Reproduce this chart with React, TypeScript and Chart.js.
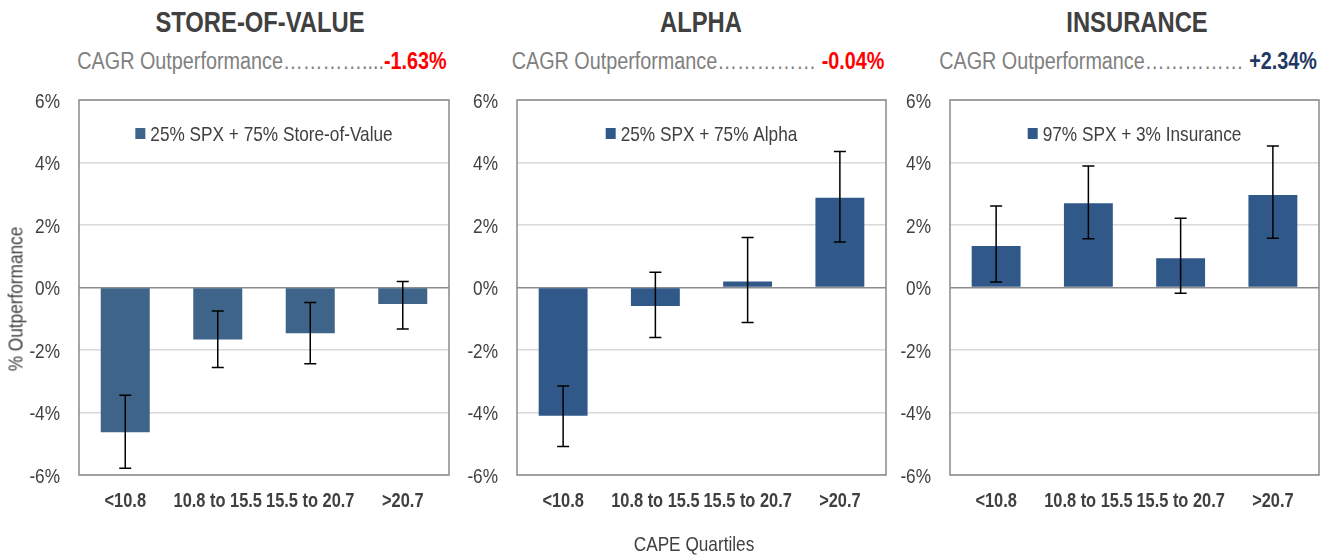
import React, { useEffect, useRef } from 'react';
import { Chart, registerables } from 'chart.js';

Chart.register(...registerables);

const FONT = '"Liberation Sans", Arial, sans-serif';
const NARROW = 0.82;

const categories = ['<10.8', '10.8 to 15.5', '15.5 to 20.7', '>20.7'];
const yTicks = [-6, -4, -2, 0, 2, 4, 6];

const sovValues = [-4.63, -1.66, -1.46, -0.53];
const sovErrLow = [-5.78, -2.56, -2.44, -1.33];
const sovErrHigh = [-3.45, -0.75, -0.48, 0.19];

const alphaValues = [-4.1, -0.59, 0.19, 2.87];
const alphaErrLow = [-5.09, -1.6, -1.12, 1.46];
const alphaErrHigh = [-3.15, 0.49, 1.6, 4.35];

const insValues = [1.33, 2.7, 0.94, 2.96];
const insErrLow = [0.18, 1.56, -0.18, 1.58];
const insErrHigh = [2.61, 3.89, 2.22, 4.53];

function narrowText(ctx: CanvasRenderingContext2D, text: string, x: number, y: number, align: CanvasTextAlign, font: string, color: string) {
  ctx.save();
  ctx.font = font;
  ctx.fillStyle = color;
  ctx.textAlign = align;
  ctx.textBaseline = 'alphabetic';
  ctx.translate(x, y);
  ctx.scale(NARROW, 1);
  ctx.fillText(text, 0, 0);
  ctx.restore();
}

type PanelProps = {
  left: number;
  width: number;
  yWidth: number;
  rightPad: number;
  values: number[];
  low: number[];
  high: number[];
  legend: string;
  color: string;
};

function Panel({ left, width, yWidth, rightPad, values, low, high, legend, color }: PanelProps) {
  const ref = useRef<HTMLCanvasElement | null>(null);
  useEffect(() => {
    if (!ref.current) return;
    const extras = {
      id: 'extras',
      beforeDatasetsDraw(chart: any) {
        const { ctx, chartArea } = chart;
        ctx.save();
        ctx.strokeStyle = '#8a8a8a';
        ctx.lineWidth = 1.5;
        ctx.strokeRect(chartArea.left, chartArea.top, chartArea.right - chartArea.left, chartArea.bottom - chartArea.top);
        ctx.restore();
      },
      afterDatasetsDraw(chart: any) {
        const { ctx, chartArea } = chart;
        const yScale = chart.scales.y;
        const xScale = chart.scales.x;
        const meta = chart.getDatasetMeta(0);
        ctx.save();
        ctx.strokeStyle = '#000000';
        ctx.lineWidth = 1.5;
        meta.data.forEach((bar: any, i: number) => {
          const x = bar.x;
          const yLo = yScale.getPixelForValue(low[i]);
          const yHi = yScale.getPixelForValue(high[i]);
          ctx.beginPath();
          ctx.moveTo(x, yLo);
          ctx.lineTo(x, yHi);
          ctx.moveTo(x - 6, yLo);
          ctx.lineTo(x + 6, yLo);
          ctx.moveTo(x - 6, yHi);
          ctx.lineTo(x + 6, yHi);
          ctx.stroke();
        });
        ctx.restore();

        // y tick labels (narrow)
        yScale.ticks.forEach((t: any) => {
          const y = yScale.getPixelForValue(t.value);
          narrowText(ctx, `${t.value}%`, chartArea.left - 19, y + 7.5, 'right', `21px ${FONT}`, '#404040');
        });
        // x tick labels (narrow bold)
        categories.forEach((lab, i) => {
          const x = xScale.getPixelForTick(i);
          narrowText(ctx, lab, x, chartArea.bottom + 32, 'center', `bold 20px ${FONT}`, '#404040');
        });

        // legend
        ctx.save();
        ctx.font = `21px ${FONT}`;
        const w = ctx.measureText(legend).width * NARROW;
        ctx.restore();
        const total = 10 + 5 + w;
        const cx = (chartArea.left + chartArea.right) / 2;
        const sx = cx - total / 2;
        ctx.save();
        ctx.fillStyle = color;
        ctx.fillRect(sx, 128, 10, 11);
        ctx.restore();
        narrowText(ctx, legend, sx + 15, 141, 'left', `21px ${FONT}`, '#404040');
      },
    };
    const chart = new Chart(ref.current, {
      type: 'bar',
      data: {
        labels: categories,
        datasets: [
          {
            label: legend,
            data: values,
            backgroundColor: color,
            barPercentage: 0.53,
            categoryPercentage: 1,
          },
        ],
      },
      options: {
        responsive: false,
        animation: false,
        devicePixelRatio: 1,
        layout: { padding: { top: 100, left: 0, right: rightPad, bottom: 30 } },
        plugins: { legend: { display: false }, tooltip: { enabled: false } },
        scales: {
          x: {
            grid: { display: false },
            border: { display: false },
            ticks: { display: false, autoSkip: false },
            afterFit: (s: any) => {
              s.height = 50;
            },
          },
          y: {
            min: -6,
            max: 6,
            afterBuildTicks: (s: any) => {
              s.ticks = yTicks.map((v) => ({ value: v }));
            },
            ticks: { display: false },
            grid: {
              drawTicks: false,
              color: (c: any) => (c.tick && c.tick.value === 0 ? '#8c8c8c' : '#d9d9d9'),
              lineWidth: 1.5,
            },
            border: { display: false },
            afterFit: (s: any) => {
              s.width = yWidth;
            },
          },
        },
      } as any,
      plugins: [extras],
    });
    return () => chart.destroy();
  }, []);
  return (
    <canvas
      ref={ref}
      width={width}
      height={555}
      style={{ position: 'absolute', left, top: 0, width, height: 555 }}
    />
  );
}

function Title({ cx, text }: { cx: number; text: string }) {
  return (
    <div
      style={{
        position: 'absolute',
        left: cx - 250,
        width: 500,
        top: 8,
        textAlign: 'center',
        font: `bold 29px ${FONT}`,
        lineHeight: '29px',
        color: '#404040',
        whiteSpace: 'nowrap',
        transform: `scaleX(${NARROW})`,
        transformOrigin: 'center',
      }}
    >
      {text}
    </div>
  );
}

function Sub({ cx, dots, value, color }: { cx: number; dots: string; value: string; color: string }) {
  return (
    <div
      style={{
        position: 'absolute',
        left: cx - 300,
        width: 600,
        top: 50,
        textAlign: 'center',
        font: `23px ${FONT}`,
        lineHeight: '23px',
        color: '#808080',
        whiteSpace: 'pre',
        transform: 'scaleX(0.86)',
        transformOrigin: 'center',
      }}
    >
      {'CAGR Outperformance' + dots}
      <span style={{ color, fontWeight: 'bold' }}>{value}</span>
    </div>
  );
}

export default function App() {
  return (
    <div
      style={{
        position: 'absolute',
        left: 0,
        top: 0,
        width: 1331,
        height: 555,
        overflow: 'hidden',
        background: '#ffffff',
      }}
    >
      <Title cx={260} text="STORE-OF-VALUE" />
      <Title cx={701} text="ALPHA" />
      <Title cx={1137} text="INSURANCE" />
      <Sub cx={262} dots={'…………....'} value="-1.63%" color="#ff0000" />
      <Sub cx={698} dots={'…………… '} value="-0.04%" color="#ff0000" />
      <Sub cx={1128} dots={'…………… '} value="+2.34%" color="#1f3864" />
      <Panel
        left={0}
        width={460}
        yWidth={79}
        rightPad={11}
        values={sovValues}
        low={sovErrLow}
        high={sovErrHigh}
        legend="25% SPX + 75% Store-of-Value"
        color="#3f6489"
      />
      <Panel
        left={460}
        width={433}
        yWidth={57}
        rightPad={7}
        values={alphaValues}
        low={alphaErrLow}
        high={alphaErrHigh}
        legend="25% SPX + 75% Alpha"
        color="#30598a"
      />
      <Panel
        left={893}
        width={438}
        yWidth={57}
        rightPad={12}
        values={insValues}
        low={insErrLow}
        high={insErrHigh}
        legend="97% SPX + 3% Insurance"
        color="#30598a"
      />
      <div
        style={{
          position: 'absolute',
          left: 15,
          top: 299,
          transform: `translate(-50%, -50%) rotate(-90deg) scaleX(${NARROW})`,
          font: `21px ${FONT}`,
          lineHeight: '21px',
          color: '#404040',
          whiteSpace: 'nowrap',
        }}
      >
        % Outperformance
      </div>
      <div
        style={{
          position: 'absolute',
          left: 694,
          top: 543,
          transform: `translate(-50%, -50%) scaleX(${NARROW})`,
          font: `21px ${FONT}`,
          lineHeight: '21px',
          color: '#404040',
          whiteSpace: 'nowrap',
        }}
      >
        CAPE Quartiles
      </div>
    </div>
  );
}
